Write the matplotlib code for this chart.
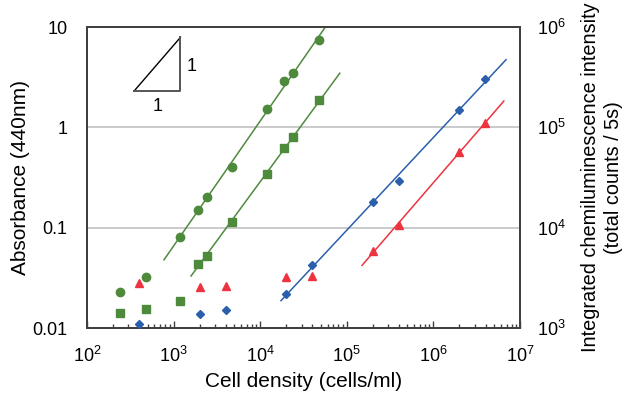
import numpy as np
import matplotlib.pyplot as plt
from matplotlib.ticker import LogLocator, FixedLocator, NullFormatter

plt.rcParams["font.family"] = ["Liberation Sans", "DejaVu Sans"]

# absorbance (left axis), green
circle_x = [240, 480, 1200, 1900, 2400, 4700, 12000, 19000, 24000, 48000]
circle_y = [0.023, 0.032, 0.081, 0.15, 0.20, 0.40, 1.52, 2.9, 3.5, 7.4]
square_x = [240, 480, 1200, 1900, 2400, 4700, 12000, 19000, 24000, 48000]
square_y = [0.0141, 0.0155, 0.0186, 0.0434, 0.052, 0.114, 0.343, 0.62, 0.80, 1.87]

# chemiluminescence (right axis)
diamond_x = [400, 2000, 4000, 20000, 40000, 2.0e5, 4.0e5, 2.0e6, 3.9e6]
diamond_y = [1100, 1380, 1510, 2180, 4250, 18000, 29200, 1.49e5, 3.04e5]
triangle_x = [400, 2000, 4000, 20000, 40000, 2.0e5, 4.0e5, 2.0e6, 3.9e6]
triangle_y = [2810, 2560, 2620, 3220, 3300, 5860, 10600, 56900, 1.1e5]

# trend line ranges (x) and index of first fitted point
circle_fit = (775, 6.0e4, 2)
square_fit = (1590, 8.3e4, 3)
diamond_fit = (1.74e4, 6.9e6, 3)
triangle_fit = (1.5e5, 6.5e6, 5)

green = "#4e8a3c"
blue = "#2b5fac"
red = "#ee3340"


def trend(ax, xs, ys, fit, color):
    x0, x1, start = fit
    lx = np.log10(xs[start:])
    ly = np.log10(ys[start:])
    k, b = np.polyfit(lx, ly, 1)
    xx = np.array([x0, x1])
    ax.plot(xx, 10 ** (k * np.log10(xx) + b), color=color, lw=1.1, zorder=2)


fig = plt.figure(figsize=(6.23, 3.96), dpi=100)
ax = fig.add_axes([0.1396, 0.1717, 0.6951, 0.7601])
ax2 = ax.twinx()

ax.set_xscale("log")
ax.set_yscale("log")
ax2.set_yscale("log")
ax.set_xlim(1e2, 1e7)
ax.set_ylim(0.01, 10)
ax2.set_ylim(1e3, 1e6)

for y in [0.1, 1]:
    ax.axhline(y, color="#c6c6c6", lw=1.3, zorder=0)

trend(ax, circle_x, circle_y, circle_fit, green)
trend(ax, square_x, square_y, square_fit, green)
ax.plot(circle_x, circle_y, "o", color=green, ms=6, zorder=3)
ax.plot(square_x, square_y, "s", color=green, ms=5.5, zorder=3)

trend(ax2, diamond_x, diamond_y, diamond_fit, blue)
trend(ax2, triangle_x, triangle_y, triangle_fit, red)
ax2.plot(diamond_x, diamond_y, "D", color=blue, ms=4.5, zorder=3)
ax2.plot(triangle_x, triangle_y, "^", color=red, ms=6, zorder=3)

# slope = 1 guide triangle
tx = [350, 1200, 1200, 350]
ty = [2.3, 2.3 * 1200 / 350, 2.3, 2.3]
ax.plot(tx[:2], ty[:2], color="black", lw=1.0)
ax.plot(tx[1:], ty[1:], color="#555555", lw=1.4)
ax.text(1600, 2.3 * (1200 / 350) ** 0.45, "1", fontsize=13, ha="center", va="center")
ax.text(650, 1.6, "1", fontsize=13, ha="center", va="center")

for a in (ax, ax2):
    for s in a.spines.values():
        s.set_color("#404040")
        s.set_linewidth(1.4)

ax.xaxis.set_major_locator(FixedLocator([1e2, 1e3, 1e4, 1e5, 1e6, 1e7]))
ax.xaxis.set_minor_locator(LogLocator(base=10, subs=np.arange(2, 10)))
ax.xaxis.set_minor_formatter(NullFormatter())
ax.tick_params(axis="x", which="major", direction="in", length=5, width=1,
               color="#404040", pad=13, labelsize=13)
ax.tick_params(axis="x", which="minor", direction="in", length=3, width=1,
               color="#404040")
ax.set_yticks([0.01, 0.1, 1, 10])
ax.set_yticklabels(["0.01", "0.1", "1", "10"])
ax.yaxis.set_minor_locator(FixedLocator([]))
ax.tick_params(axis="y", length=0, pad=14, labelsize=13)
ax2.set_yticks([1e3, 1e4, 1e5, 1e6])
ax2.yaxis.set_minor_locator(FixedLocator([]))
ax2.tick_params(axis="y", length=0, pad=12, labelsize=13)

ax.set_xlabel("Cell density (cells/ml)", fontsize=15, labelpad=4)
ax.set_ylabel("Absorbance (440nm)", fontsize=15, labelpad=2)
ax2.set_ylabel("Integrated chemiluminescence intensity\n(total counts / 5s)",
               fontsize=14.3, labelpad=11, linespacing=1.25)

fig.savefig("out.png", dpi=100)
